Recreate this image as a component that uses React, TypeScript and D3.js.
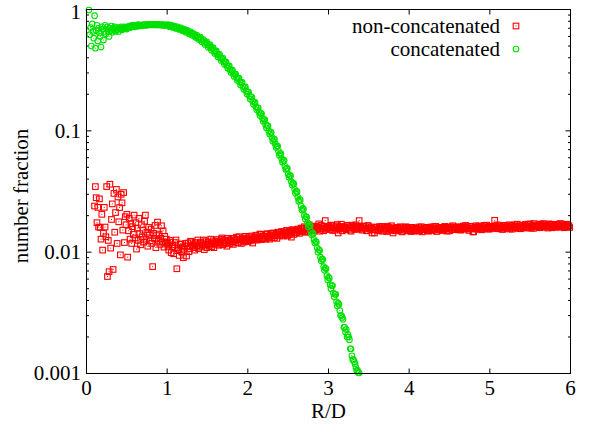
import React from 'react'
import * as d3 from 'd3'

// R/D bins: early part every 0.01, later part as two interleaved 0.02 grids
const redStart = 0.10
const redEarly = [
  0.0240, 0.0347, 0.0281, 0.0175, 0.0234, 0.0161, 0.0275, 0.0160, 0.0128, 0.0205,
  0.0104, 0.0143, 0.0234, 0.0161, 0.0134, 0.0347, 0.0063, 0.0125, 0.0069, 0.0363,
  0.0108, 0.0186, 0.0250, 0.0072, 0.0305, 0.0146, 0.0212, 0.0329, 0.0118, 0.0285,
  0.0178, 0.0233, 0.0095, 0.0300, 0.0255, 0.0152, 0.0310, 0.0120, 0.0196, 0.0168,
  0.0205, 0.0091, 0.0150, 0.0190, 0.0128, 0.0172, 0.0118, 0.0162, 0.0140, 0.0202,
  0.0131, 0.0175, 0.0106, 0.0158, 0.0125, 0.0190, 0.0142, 0.0115, 0.0168, 0.0133,
  0.0152, 0.0121, 0.0180, 0.0202, 0.0128, 0.0146, 0.0112, 0.0160, 0.0138, 0.0124,
  0.0155, 0.0118, 0.0076, 0.0143, 0.0130, 0.0166, 0.0109, 0.0137, 0.0177, 0.0125,
  0.0141, 0.0116, 0.0130, 0.0165, 0.0121, 0.0150, 0.0110, 0.0135, 0.0119, 0.0128,
]
const redLateStart = 1.0
const redLate = [
  0.0118, 0.0104, 0.0125, 0.0111, 0.0097, 0.0120, 0.0073, 0.0108, 0.0116, 0.0101,
  0.0090, 0.0113, 0.0093, 0.0119, 0.0107, 0.0122, 0.0112, 0.0104, 0.0117, 0.0126,
  0.0110, 0.0121, 0.0115, 0.0105, 0.0124, 0.0117, 0.0112, 0.0128, 0.0119, 0.0109,
  0.0122, 0.0127, 0.0114, 0.0120, 0.0131, 0.0118, 0.0124, 0.0112, 0.0126, 0.0121,
  0.0129, 0.0116, 0.0125, 0.0133, 0.0120, 0.0127, 0.0118, 0.0131, 0.0124, 0.0128,
  0.0122, 0.0134, 0.0127, 0.0119, 0.0132, 0.0138, 0.0126, 0.0131, 0.0140, 0.0129,
  0.0135, 0.0128, 0.0142, 0.0133, 0.0139, 0.0131, 0.0144, 0.0137, 0.0130, 0.0145,
  0.0140, 0.0148, 0.0136, 0.0143, 0.0151, 0.0139, 0.0146, 0.0133, 0.0152, 0.0144,
  0.0149, 0.0155, 0.0143, 0.0158, 0.0150, 0.0162, 0.0147, 0.0156, 0.0168, 0.0153,
  0.0159, 0.0150, 0.0164, 0.0157, 0.0171, 0.0155, 0.0162, 0.0150, 0.0182, 0.0158,
  0.0163, 0.0154, 0.0167, 0.0159, 0.0152, 0.0165, 0.0144, 0.0160, 0.0170, 0.0156,
  0.0161, 0.0153, 0.0166, 0.0158, 0.0149, 0.0163, 0.0157, 0.0168, 0.0155, 0.0182,
  0.0160, 0.0152, 0.0164, 0.0157, 0.0150, 0.0162, 0.0155, 0.0144, 0.0159, 0.0153,
  0.0161, 0.0150, 0.0157, 0.0163, 0.0152, 0.0158, 0.0148, 0.0160, 0.0154, 0.0165,
  0.0144, 0.0156, 0.0151, 0.0160, 0.0153, 0.0158, 0.0149, 0.0155, 0.0162, 0.0151,
  0.0156, 0.0148, 0.0159, 0.0152, 0.0157, 0.0150, 0.0161, 0.0154, 0.0147, 0.0158,
  0.0153, 0.0160, 0.0149, 0.0156, 0.0151, 0.0162, 0.0155, 0.0148, 0.0159, 0.0154,
  0.0157, 0.0151, 0.0163, 0.0155, 0.0160, 0.0150, 0.0158, 0.0165, 0.0153, 0.0159,
  0.0156, 0.0162, 0.0152, 0.0160, 0.0155, 0.0166, 0.0158, 0.0151, 0.0163, 0.0157,
  0.0147, 0.0161, 0.0156, 0.0164, 0.0158, 0.0153, 0.0162, 0.0157, 0.0167, 0.0160,
  0.0155, 0.0163, 0.0158, 0.0183, 0.0161, 0.0156, 0.0165, 0.0159, 0.0154, 0.0166,
  0.0160, 0.0157, 0.0168, 0.0162, 0.0155, 0.0164, 0.0159, 0.0170, 0.0161, 0.0156,
  0.0165, 0.0160, 0.0169, 0.0158, 0.0163, 0.0171, 0.0161, 0.0157, 0.0166, 0.0162,
  0.0168, 0.0159, 0.0164, 0.0172, 0.0161, 0.0167, 0.0158, 0.0165, 0.0170, 0.0162,
  0.0166, 0.0160, 0.0169, 0.0163, 0.0171, 0.0164, 0.0159, 0.0167, 0.0162, 0.0165,
]
const redLate2Start = 1.01
const redLate2 = [
  0.0112, 0.0121, 0.0099, 0.0115, 0.0108, 0.0126, 0.0103, 0.0094, 0.0117, 0.0110,
  0.0106, 0.0118, 0.0111, 0.0101, 0.0123, 0.0114, 0.0109, 0.0120, 0.0113, 0.0107,
  0.0118, 0.0112, 0.0126, 0.0115, 0.0109, 0.0121, 0.0116, 0.0111, 0.0124, 0.0118,
  0.0116, 0.0123, 0.0119, 0.0128, 0.0115, 0.0125, 0.0120, 0.0130, 0.0117, 0.0124,
  0.0122, 0.0130, 0.0119, 0.0127, 0.0134, 0.0123, 0.0129, 0.0121, 0.0135, 0.0126,
  0.0131, 0.0124, 0.0136, 0.0129, 0.0126, 0.0134, 0.0130, 0.0141, 0.0127, 0.0136,
  0.0131, 0.0140, 0.0135, 0.0128, 0.0143, 0.0137, 0.0132, 0.0141, 0.0146, 0.0136,
  0.0145, 0.0139, 0.0147, 0.0141, 0.0136, 0.0149, 0.0143, 0.0153, 0.0140, 0.0150,
  0.0145, 0.0152, 0.0148, 0.0157, 0.0153, 0.0146, 0.0159, 0.0152, 0.0149, 0.0161,
  0.0155, 0.0163, 0.0153, 0.0160, 0.0149, 0.0166, 0.0157, 0.0163, 0.0154, 0.0161,
  0.0158, 0.0166, 0.0151, 0.0162, 0.0157, 0.0169, 0.0155, 0.0163, 0.0150, 0.0160,
  0.0156, 0.0165, 0.0159, 0.0152, 0.0167, 0.0160, 0.0154, 0.0162, 0.0158, 0.0164,
  0.0155, 0.0163, 0.0158, 0.0151, 0.0166, 0.0157, 0.0161, 0.0153, 0.0144, 0.0160,
  0.0154, 0.0162, 0.0156, 0.0149, 0.0161, 0.0155, 0.0163, 0.0151, 0.0158, 0.0152,
  0.0159, 0.0150, 0.0157, 0.0153, 0.0162, 0.0147, 0.0156, 0.0160, 0.0152, 0.0158,
  0.0151, 0.0160, 0.0154, 0.0149, 0.0158, 0.0155, 0.0150, 0.0162, 0.0153, 0.0157,
  0.0159, 0.0150, 0.0156, 0.0161, 0.0153, 0.0157, 0.0163, 0.0152, 0.0155, 0.0160,
  0.0152, 0.0160, 0.0156, 0.0149, 0.0158, 0.0162, 0.0154, 0.0159, 0.0161, 0.0155,
  0.0160, 0.0153, 0.0158, 0.0164, 0.0156, 0.0161, 0.0155, 0.0162, 0.0157, 0.0147,
  0.0158, 0.0165, 0.0154, 0.0160, 0.0163, 0.0157, 0.0166, 0.0159, 0.0155, 0.0163,
  0.0160, 0.0157, 0.0164, 0.0161, 0.0168, 0.0158, 0.0162, 0.0155, 0.0166, 0.0160,
  0.0164, 0.0161, 0.0155, 0.0166, 0.0160, 0.0168, 0.0163, 0.0157, 0.0165, 0.0161,
  0.0160, 0.0167, 0.0163, 0.0170, 0.0161, 0.0158, 0.0166, 0.0172, 0.0162, 0.0167,
  0.0163, 0.0170, 0.0166, 0.0161, 0.0168, 0.0164, 0.0171, 0.0163, 0.0159, 0.0168,
  0.0162, 0.0169, 0.0165, 0.0172, 0.0161, 0.0167, 0.0163, 0.0170, 0.0164, 0.0160,
]

const greenStart = 0.03
const greenEarly = [
  0.99, 0.62, 0.71, 0.50, 0.76, 0.66, 0.58, 0.89, 0.48, 0.67,
  0.74, 0.55, 0.70, 0.64, 0.60, 0.49, 0.72, 0.69, 0.56, 0.66,
  0.74, 0.63, 0.69, 0.72, 0.66, 0.60, 0.70, 0.67, 0.73, 0.65,
  0.70, 0.68, 0.72, 0.66, 0.71, 0.68, 0.70, 0.66, 0.71, 0.69,
  0.72, 0.68, 0.71, 0.69, 0.72, 0.70, 0.71, 0.69, 0.72, 0.71,
  0.73, 0.71, 0.72, 0.74, 0.72, 0.73, 0.74, 0.72, 0.73, 0.74,
  0.73, 0.75, 0.73, 0.74, 0.745, 0.735, 0.74, 0.75, 0.74, 0.745,
  0.75, 0.74, 0.745, 0.755, 0.745, 0.75, 0.755, 0.745, 0.75, 0.755,
  0.75, 0.745, 0.755, 0.75, 0.745, 0.755, 0.75, 0.745, 0.75, 0.745,
  0.75, 0.74, 0.745, 0.75, 0.74, 0.745, 0.74,
]
const greenLateStart = 1.0
const greenLate = [
  0.742, 0.736, 0.735, 0.726, 0.724, 0.713, 0.711, 0.700, 0.698, 0.686,
  0.682, 0.669, 0.664, 0.651, 0.646, 0.633, 0.627, 0.611, 0.605, 0.589,
  0.583, 0.565, 0.557, 0.539, 0.531, 0.513, 0.504, 0.485, 0.476, 0.456,
  0.448, 0.428, 0.420, 0.400, 0.392, 0.373, 0.365, 0.347, 0.339, 0.321,
  0.313, 0.297, 0.291, 0.275, 0.269, 0.253, 0.248, 0.233, 0.228, 0.213,
  0.208, 0.194, 0.190, 0.176, 0.171, 0.158, 0.154, 0.142, 0.139, 0.127,
  0.124, 0.113, 0.110, 0.100, 0.097, 0.088, 0.085, 0.078, 0.075, 0.068,
  0.065, 0.059, 0.057, 0.051, 0.049, 0.044, 0.043, 0.038, 0.037, 0.0330,
  0.0318, 0.0283, 0.0272, 0.0240, 0.0230, 0.0201, 0.0196, 0.0175, 0.0169, 0.0149,
  0.0143, 0.0127, 0.0123, 0.0108, 0.0105, 0.0091, 0.0088, 0.0076, 0.0074, 0.0064,
  0.0062, 0.0054, 0.0053, 0.0046, 0.0045, 0.0039, 0.0038, 0.0033, 0.0030, 0.0028,
  0.0024, 0.0023, 0.0021, 0.0019, 0.0016, 0.0013, 0.00125, 0.00112, 0.00106, 0.00101,
]
const greenLate2Start = 1.01
const greenLate2 = [
  0.752, 0.722, 0.744, 0.712, 0.731, 0.698, 0.720, 0.684, 0.706, 0.668,
  0.690, 0.650, 0.672, 0.630, 0.655, 0.612, 0.634, 0.590, 0.613, 0.566,
  0.592, 0.541, 0.566, 0.515, 0.540, 0.489, 0.513, 0.462, 0.485, 0.434,
  0.456, 0.406, 0.427, 0.380, 0.398, 0.353, 0.370, 0.328, 0.343, 0.303,
  0.317, 0.281, 0.294, 0.260, 0.272, 0.239, 0.251, 0.220, 0.230, 0.201,
  0.209, 0.183, 0.190, 0.166, 0.172, 0.149, 0.155, 0.134, 0.139, 0.120,
  0.124, 0.106, 0.110, 0.094, 0.097, 0.082, 0.085, 0.073, 0.075, 0.063,
  0.065, 0.055, 0.057, 0.048, 0.049, 0.0415, 0.0425, 0.0357, 0.0366, 0.0306,
  0.0314, 0.0263, 0.0269, 0.0223, 0.0226, 0.0188, 0.0194, 0.0162, 0.0166, 0.0139,
  0.0142, 0.0119, 0.0121, 0.0100, 0.0103, 0.0085, 0.0087, 0.0071, 0.0073, 0.0059,
  0.0061, 0.0050, 0.0053, 0.0043, 0.0045, 0.0036, 0.0037, 0.0030, 0.0029, 0.0024,
  0.0022, 0.0020, 0.0020, 0.0016, 0.0014, 0.0013, 0.0012, 0.00105, 0.00102,
]

const xTicks = [0, 1, 2, 3, 4, 5, 6]
const yMajor = [0.001, 0.01, 0.1, 1]
const yTickLabels = ['0.001', '0.01', '0.1', '1']
const seriesNames = ['non-concatenated', 'concatenated']

const RED = '#ff0000'
const GREEN = '#00e000'
const textStyle = { fontFamily: "'Liberation Serif', serif", fontSize: 21 }

function toPoints(start: number, step: number, vals: number[]) {
  return vals.map((v, i) => [start + step * i, v] as [number, number])
}

const Square = ({ cx, cy }: { cx: number; cy: number }) => (
  <g>
    <rect x={cx - 2.8} y={cy - 2.8} width={5.6} height={5.6} fill="none" stroke={RED} strokeWidth={1.1} />
    <rect x={cx - 0.5} y={cy - 0.5} width={1} height={1} fill={RED} />
  </g>
)

const Circle = ({ cx, cy }: { cx: number; cy: number }) => (
  <g>
    <circle cx={cx} cy={cy} r={2.8} fill="none" stroke={GREEN} strokeWidth={1.1} />
    <rect x={cx - 0.5} y={cy - 0.5} width={1} height={1} fill={GREEN} />
  </g>
)

export default function App() {
  const width = 595
  const height = 434
  const left = 86.5, right = 570.5, top = 9.5, bottom = 373.5

  const x = d3.scaleLinear().domain([0, 6]).range([left, right])
  const y = d3.scaleLog().domain([0.001, 1]).range([bottom, top])

  const red = [
    ...toPoints(redStart, 0.01, redEarly),
    ...toPoints(redLateStart, 0.02, redLate),
    ...toPoints(redLate2Start, 0.02, redLate2),
  ].sort((a, b) => a[0] - b[0])
  const green = [
    ...toPoints(greenStart, 0.01, greenEarly),
    ...toPoints(greenLateStart, 0.02, greenLate),
    ...toPoints(greenLate2Start, 0.02, greenLate2),
  ].sort((a, b) => a[0] - b[0]).filter(d => d[1] >= 0.001)

  const minor = y.ticks().filter(t => !yMajor.some(m => Math.abs(m - t) < 1e-9))

  return (
    <svg width={width} height={height} style={{ position: 'absolute', left: 0, top: 0 }}>
      <rect width={width} height={height} fill="#fff" />

      {/* ticks, mirrored on all sides */}
      <g stroke="#000" strokeWidth={1}>
        {xTicks.map(t => (
          <g key={'x' + t}>
            <line x1={x(t)} x2={x(t)} y1={bottom} y2={bottom - 5} />
            <line x1={x(t)} x2={x(t)} y1={top} y2={top + 5} />
          </g>
        ))}
        {yMajor.map(t => (
          <g key={'y' + t}>
            <line x1={left} x2={left + 5} y1={y(t)} y2={y(t)} />
            <line x1={right} x2={right - 5} y1={y(t)} y2={y(t)} />
          </g>
        ))}
        {minor.map(t => (
          <g key={'m' + t}>
            <line x1={left} x2={left + 2.5} y1={y(t)} y2={y(t)} />
            <line x1={right} x2={right - 2.5} y1={y(t)} y2={y(t)} />
          </g>
        ))}
      </g>

      {red.map((d, i) => <Square key={'r' + i} cx={x(d[0])} cy={y(d[1])} />)}
      {green.map((d, i) => <Circle key={'g' + i} cx={x(d[0])} cy={y(d[1])} />)}

      <rect x={left} y={top} width={right - left} height={bottom - top} fill="none" stroke="#000" strokeWidth={1} />

      {xTicks.map(t => (
        <text key={'xl' + t} x={x(t)} y={395} textAnchor="middle" style={textStyle}>{t}</text>
      ))}
      {yMajor.map((t, i) => (
        <text key={'yl' + t} x={81} y={Math.max(y(t), 12)} dy="0.33em" textAnchor="end" style={textStyle}>{yTickLabels[i]}</text>
      ))}

      <text x={(left + right) / 2} y={418} textAnchor="middle" style={textStyle}>R/D</text>
      <text transform="translate(28,196) rotate(-90)" textAnchor="middle" style={textStyle}>number fraction</text>

      {/* legend */}
      <text x={500} y={26} dy="0.33em" textAnchor="end" style={textStyle}>{seriesNames[0]}</text>
      <Square cx={516} cy={26} />
      <text x={500} y={49} dy="0.33em" textAnchor="end" style={textStyle}>{seriesNames[1]}</text>
      <Circle cx={516} cy={49} />
    </svg>
  )
}
